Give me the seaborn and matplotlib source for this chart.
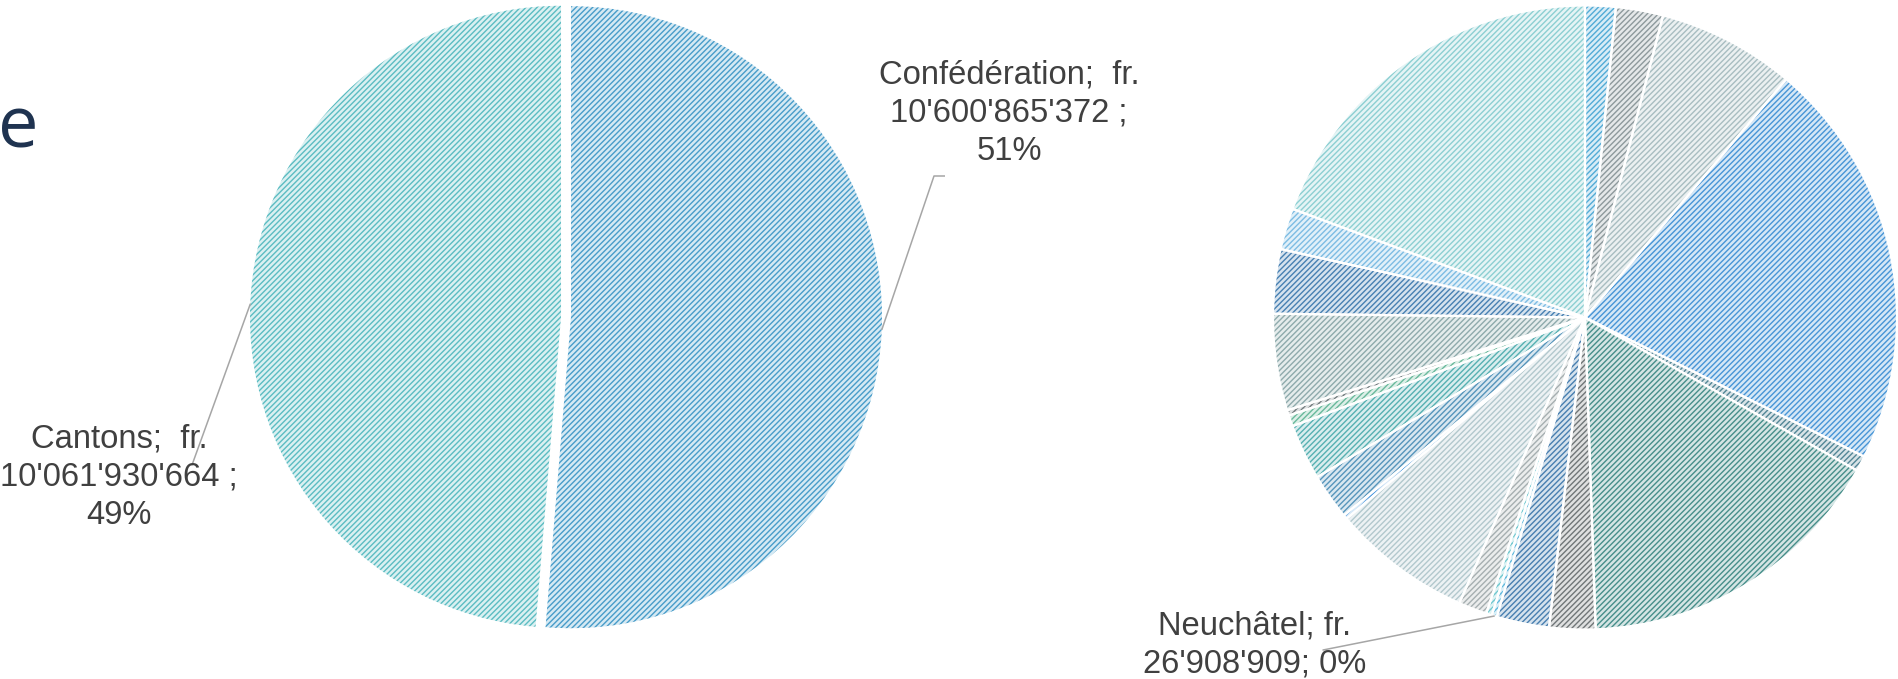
import numpy as np
import matplotlib
matplotlib.use("Agg")
import matplotlib.pyplot as plt
from matplotlib.colors import to_rgb
import seaborn as sns

# Répartition Confédération / cantons
part_labels = ["Confédération", "Cantons"]
part_values = [10600865372, 10061930664]
part_colors = ["#2f8fc2", "#45b3ba"]

# Part des cantons (ordre des secteurs, sens horaire depuis midi)
canton_labels = ["Canton 1", "Canton 2", "Canton 3", "Canton 4", "Canton 5",
                 "Canton 6", "Canton 7", "Canton 8", "Neuchâtel", "Canton 10",
                 "Canton 11", "Canton 12", "Canton 13", "Canton 14", "Canton 15",
                 "Canton 16", "Canton 17", "Canton 18", "Canton 19", "Canton 20",
                 "Canton 21"]
canton_values = [159000000, 246000000, 718000000, 2133000000, 80000000,
                 1640000000, 240000000, 274000000, 26908909, 30000000,
                 148000000, 729000000, 22000000, 240000000, 291000000,
                 58000000, 28000000, 503000000, 335000000, 215000000,
                 1946021755]
canton_colors = ["#3a9fd0", "#7d8b8f", "#9cb4b9", "#2e86d0", "#3a7588",
                 "#2d7f7a", "#5d6366", "#2f6ea5", "#4cb0d8", "#5cc0c8",
                 "#9aa4a6", "#a7c0c6", "#3a8fdc", "#3f86b2", "#3fa5a8",
                 "#55b08e", "#5f6a6c", "#7f9ea1", "#2e6fa8", "#6bb3df",
                 "#7cc8cc"]

sns.set_theme(style="white")
plt.rcParams["font.family"] = ["Liberation Sans", "DejaVu Sans"]
plt.rcParams["hatch.linewidth"] = 0.5

DPI = 200
W, H = 1898, 679
fig = plt.figure(figsize=(W / DPI, H / DPI), dpi=DPI)
ax = fig.add_axes([0, 0, 1, 1])

TXT = "#404040"
LEAD = "#a6a6a6"
HATCH = "/" * 12


def lighten(c, amount):
    r = np.array(to_rgb(c))
    return tuple(r + (1 - r) * amount)


def hatched_pie(values, colors, center, radius, explode=None, sep=None):
    wedges, _ = ax.pie(values, colors=[lighten(c, 0.8) for c in colors],
                       startangle=90, counterclock=False,
                       center=center, radius=radius, explode=explode)
    for w, c in zip(wedges, colors):
        w.set_edgecolor(lighten(c, 0.12))   # hatch colour follows the edge colour
        w.set_linewidth(0)
        w.set_hatch(HATCH)
    if sep:
        ax.pie(values, startangle=90, counterclock=False, center=center,
               radius=radius,
               wedgeprops=dict(fill=False, edgecolor="white", linewidth=sep))
    return wedges


def edge_point(w):
    th = np.deg2rad((w.theta1 + w.theta2) / 2)
    cx, cy = w.center
    return cx + w.r * np.cos(th), cy + w.r * np.sin(th)


def fmt(v):
    return f"{v:,}".replace(",", "'")


# left pie
left = hatched_pie(part_values, part_colors, center=(566, H - 317), radius=311,
                   explode=[5, 5])
# right pie
right = hatched_pie(canton_values, canton_colors, center=(1585, H - 317.5),
                    radius=312, sep=0.8)

total = sum(part_values)
pct = [v / total * 100 for v in part_values]
FS = 11.8
LS = 1.3

# Confédération
ax.text(1009, H - 113,
        f"{part_labels[0]};  fr.\n{fmt(part_values[0])} ;\n{pct[0]:.0f}%",
        ha="center", va="center", multialignment="center",
        fontsize=FS, color=TXT, linespacing=LS)
ex, ey = edge_point(left[0])
ax.plot([945, 934, ex], [H - 176, H - 176, ey], color=LEAD, lw=0.55,
        solid_capstyle="butt")

# Cantons
ax.text(119, H - 477,
        f"{part_labels[1]};  fr.\n{fmt(part_values[1])} ;\n{pct[1]:.0f}%",
        ha="center", va="center", multialignment="center",
        fontsize=FS, color=TXT, linespacing=LS)
ex, ey = edge_point(left[1])
ax.plot([192, ex], [H - 465, ey], color=LEAD, lw=0.55)

# Neuchâtel
i = canton_labels.index("Neuchâtel")
npct = canton_values[i] / sum(canton_values) * 100
ax.text(1255, H - 645,
        f"{canton_labels[i]}; fr.\n{fmt(canton_values[i])}; {npct:.0f}%",
        ha="center", va="center", multialignment="center",
        fontsize=FS, color=TXT, linespacing=LS)
ex, ey = edge_point(right[i])
ax.plot([1323, ex], [H - 650, ey], color=LEAD, lw=0.55)

# bout de titre coupé
ax.text(-2, H - 147, "e", ha="left", va="baseline", fontsize=26,
        color="#1f3350", family=["Open Sans", "DejaVu Sans"])

ax.set_xlim(0, W)
ax.set_ylim(0, H)
ax.set_aspect("equal")
ax.axis("off")

fig.savefig("out.png", dpi=DPI)
